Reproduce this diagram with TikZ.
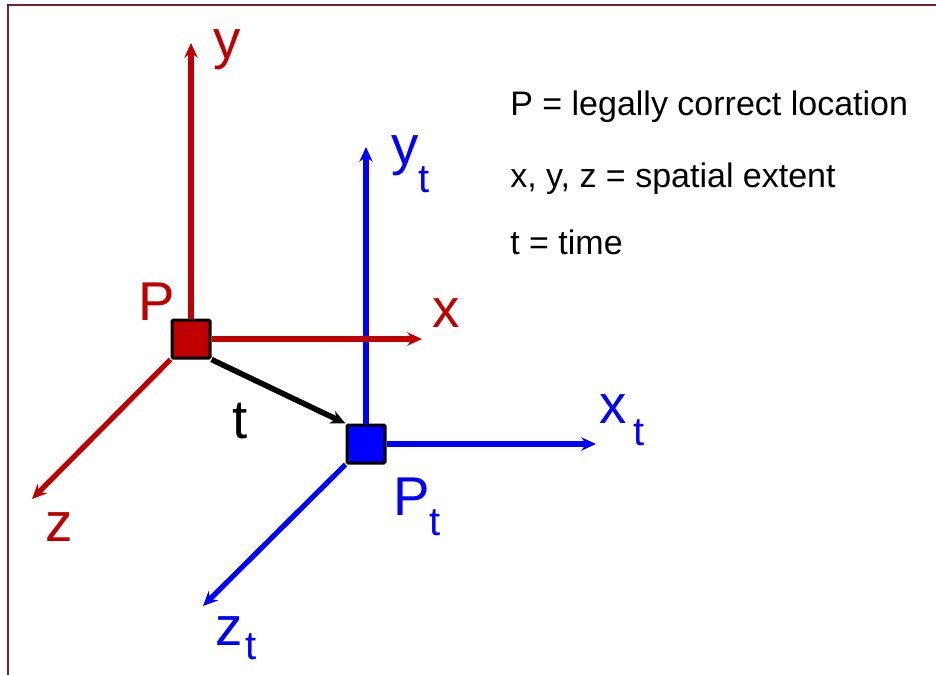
\documentclass[tikz,border=0pt]{standalone}
\usepackage{fontspec}
\setmainfont{Liberation Sans}
\usetikzlibrary{arrows.meta}

\definecolor{axisred}{RGB}{192,0,0}
\definecolor{axisblue}{RGB}{0,0,255}
\definecolor{framered}{RGB}{122,32,48}

% lowered subscript t
\newcommand{\tsub}[1]{\raisebox{-#1}{\fontsize{30}{30}\selectfont t}}

\begin{document}
\begin{tikzpicture}[x=0.75pt, y=-0.75pt, >={Stealth[length=11pt,width=10pt]},
    axis/.style={line width=3.9pt, ->},
    box/.style={draw=black, line width=2.25pt, minimum size=28.5pt, inner sep=0pt, rounded corners=1pt},
    lbl/.style={anchor=base west, inner sep=0pt, font=\fontsize{41}{41}\selectfont},
    legend/.style={anchor=base west, inner sep=0pt, font=\fontsize{25.5}{30}\selectfont}]
    \useasboundingbox (0,0) rectangle (936,675);

    % Frame
    \draw[framered, line width=1.5pt] (936,5) -- (8,5) -- (8,675);

    % Locations
    \node[box, fill=axisred] (P) at (191,339) {};
    \node[box, fill=axisblue] (Pt) at (366,444) {};

    % Tips of the axes
    \coordinate (ytip) at (191,43);
    \coordinate (xtip) at (422,339);
    \coordinate (ztip) at (32,499);
    \coordinate (yttip) at (366,147);
    \coordinate (xttip) at (596,444);
    \coordinate (zttip) at (203,606);

    % Axes at time t
    \draw[axis, axisblue] (Pt.north) -- (yttip);
    \draw[axis, axisblue] (Pt.east) -- (xttip);
    \draw[axis, axisblue] (Pt.south west) -- (zttip);

    % Axes at P
    \draw[axis, axisred] (P.north) -- (ytip);
    \draw[axis, axisred] (P.east) -- (xtip);
    \draw[axis, axisred] (P.south west) -- (ztip);

    % Move in time
    \draw[axis, black, line width=4.2pt] (P.south east) -- (Pt.north west);

    % Labels
    \node[lbl, axisred] (ylbl) at (213,58) {y};
    \node[lbl, axisred] (xlbl) at (432,327) {x};
    \node[lbl, axisred] (zlbl) at (45,541) {z};
    \node[lbl, axisred] (Plbl) at (138,320) {P};
    \node[lbl, axisblue] (ytlbl) at (391,164) {y\tsub{21pt}};
    \node[lbl, axisblue] (xtlbl) at (599,423) {x\hspace{5pt}\tsub{16.5pt}};
    \node[lbl, axisblue] (ztlbl) at (215,645) {z\hspace{2pt}\tsub{11pt}};
    \node[lbl, axisblue] (Ptlbl) at (393,515) {P\tsub{15pt}};
    \node[lbl] (tlbl) at (232,438) {t};

    % Legend
    \node[legend] (leg1) at (510,115) {P = legally correct location};
    \node[legend] (leg2) at (510,187) {x, y, z = spatial extent};
    \node[legend] (leg3) at (510,254) {t = time};
\end{tikzpicture}
\end{document}
